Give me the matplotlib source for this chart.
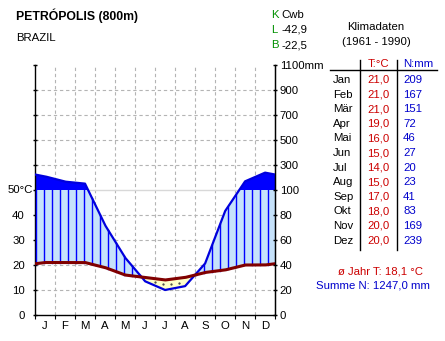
import matplotlib.pyplot as plt
import numpy as np

plt.rcParams["font.family"] = ["Liberation Sans", "DejaVu Sans"]

months = ["J", "F", "M", "A", "M", "J", "J", "A", "S", "O", "N", "D"]
month_names = ["Jan", "Feb", "Mär", "Apr", "Mai", "Jun", "Jul", "Aug", "Sep", "Okt", "Nov", "Dez"]
temp = [21.0, 21.0, 21.0, 19.0, 16.0, 15.0, 14.0, 15.0, 17.0, 18.0, 20.0, 20.0]
prec = [209, 167, 151, 72, 46, 27, 20, 23, 41, 83, 169, 239]
temp_mean = "18,1"
prec_sum = "1247,0"

W, H = 445, 341
FS = 8.2
fig = plt.figure(figsize=(W / 100, H / 100), dpi=100)
fig.patch.set_facecolor("white")

# plot area in pixels: x 35..275, y 315 (0) .. 65 (top)
x0, x1, yb, yt = 35, 275, 315, 65
ax = fig.add_axes([x0 / W, 1 - yb / H, (x1 - x0) / W, (yb - yt) / H])
ax.set_xlim(0, 12)
ax.set_ylim(0, 100)


def pscale(p):
    # 20 mm per unit up to 100 mm, 200 mm per 10 units above
    p = np.asarray(p, dtype=float)
    return np.where(p <= 100, p / 2.0, 50 + (p - 100) / 20.0)


# month centres plus edges at the Dec/Jan mean
xs = np.concatenate([[0], np.arange(12) + 0.5, [12]])
ps = pscale(prec)
t_edge = (temp[0] + temp[-1]) / 2
p_edge = (ps[0] + ps[-1]) / 2
t_line = np.concatenate([[t_edge], temp, [t_edge]])
p_line = np.concatenate([[p_edge], ps, [p_edge]])

xf = np.linspace(0, 12, 2401)
tf = np.interp(xf, xs, t_line)
pf = np.interp(xf, xs, p_line)

# grid
for k in range(1, 12):
    ax.axvline(k, color="#b4b4b4", lw=0.8, ls=(0, (3, 2.5)), zorder=1)
for v in [10, 20, 30, 40, 60, 70, 80, 90]:
    ax.axhline(v, color="#b4b4b4", lw=0.8, ls=(0, (3, 2.5)), zorder=1)
ax.axhline(50, color="#d8d8d8", lw=1.0, zorder=1)

# perhumid part above 100 mm
ax.fill_between(xf, 50, pf, where=pf > 50, color="#0000ff", lw=0, zorder=2)
# humid part
p_cap = np.minimum(pf, 50)
ax.fill_between(xf, tf, p_cap, where=p_cap >= tf, color="#c6e2fb", lw=0, zorder=2)
# arid part
ax.fill_between(xf, pf, tf, where=pf <= tf, color="#ffffc8", lw=0, zorder=2)

# vertical hatching in the humid part
for xh in np.arange(0.05, 12, 0.4):
    tv = np.interp(xh, xf, tf)
    pv = np.interp(xh, xf, p_cap)
    if pv > tv:
        ax.plot([xh, xh], [tv, pv], color="#0000ff", lw=1.0, zorder=3)

# dots in the arid part
for xd in np.arange(6.0, 7.6, 0.4):
    tv = np.interp(xd, xf, tf)
    pv = np.interp(xd, xf, pf)
    if tv - pv > 1.5:
        ax.plot(xd, (tv + pv) / 2, ".", color="#404040", ms=1.2, zorder=3)

ax.plot(xf, pf, color="#0000dd", lw=1.6, zorder=4)
ax.plot(xf, tf, color="#800000", lw=2.2, zorder=5)

# axes
ax.spines["top"].set_visible(False)
for s in ["left", "right", "bottom"]:
    ax.spines[s].set_color("black")
    ax.spines[s].set_linewidth(1.0)
ax.set_facecolor("none")

ax.set_xticks(range(13))
ax.set_xticklabels([])
ax.set_xticks(np.arange(12) + 0.5, minor=True)
ax.set_xticklabels(months, minor=True, fontsize=FS)
ax.tick_params(axis="x", which="major", length=3, direction="out", color="black")
ax.tick_params(axis="x", which="minor", length=0, pad=4)

ax.set_yticks(range(0, 101, 10))
ax.set_yticklabels(["0", "10", "20", "30", "40", "", "", "", "", "", ""], fontsize=FS)
ax.tick_params(axis="y", which="major", length=3, direction="inout", width=1.0, pad=5.8)
ax.text(-1.6 / 20, 50, "50°C", fontsize=FS, ha="right", va="center")

ax2 = ax.twinx()
ax2.set_ylim(0, 100)
ax2.set_yticks(range(0, 101, 10))
ax2.set_yticklabels(["0", "20", "40", "60", "80", "100", "300", "500", "700", "900", "1100mm"], fontsize=FS)
ax2.tick_params(axis="y", length=3, direction="inout", width=1.0, pad=2)
for s in ["top", "left", "bottom"]:
    ax2.spines[s].set_visible(False)


# header text
def ftxt(x, y, s, **kw):
    kw.setdefault("fontsize", FS)
    kw.setdefault("va", "center")
    fig.text(x / W, 1 - y / H, s, **kw)


ftxt(16, 16, "PETRÓPOLIS (800m)", fontsize=8.8, fontweight="bold")
ftxt(16, 38, "BRAZIL")
for i, (k, v) in enumerate([("K", "Cwb"), ("L", "-42,9"), ("B", "-22,5")]):
    ftxt(271, 15 + 15 * i, k, color="#009000")
    ftxt(281, 15 + 15 * i, v, color="black")
ftxt(376, 27, "Klimadaten", ha="center")
ftxt(376, 42, "(1961 - 1990)", ha="center")

# data table
ftxt(379, 64, "T:°C", color="#cc0000", ha="center")
ftxt(403, 64, "N:mm", color="#0000cc")
fig.add_artist(plt.Line2D([330 / W, 437 / W], [1 - 70 / H, 1 - 70 / H], color="black", lw=1.0))
for xl in [360, 397]:
    fig.add_artist(plt.Line2D([xl / W, xl / W], [1 - 60 / H, 1 - 250 / H], color="black", lw=1.0))
for i in range(12):
    yy = 80 + 14.6 * i
    ftxt(333, yy, month_names[i])
    ftxt(367, yy, f"{temp[i]:.1f}".replace(".", ","), color="#cc0000")
    ftxt(403, yy, str(prec[i]), color="#0000cc")

ftxt(380, 271, f"ø Jahr T: {temp_mean} °C", color="#cc0000", ha="center")
ftxt(373, 286, f"Summe N: {prec_sum} mm", color="#0000cc", ha="center")

fig.savefig("out.png", dpi=100)
